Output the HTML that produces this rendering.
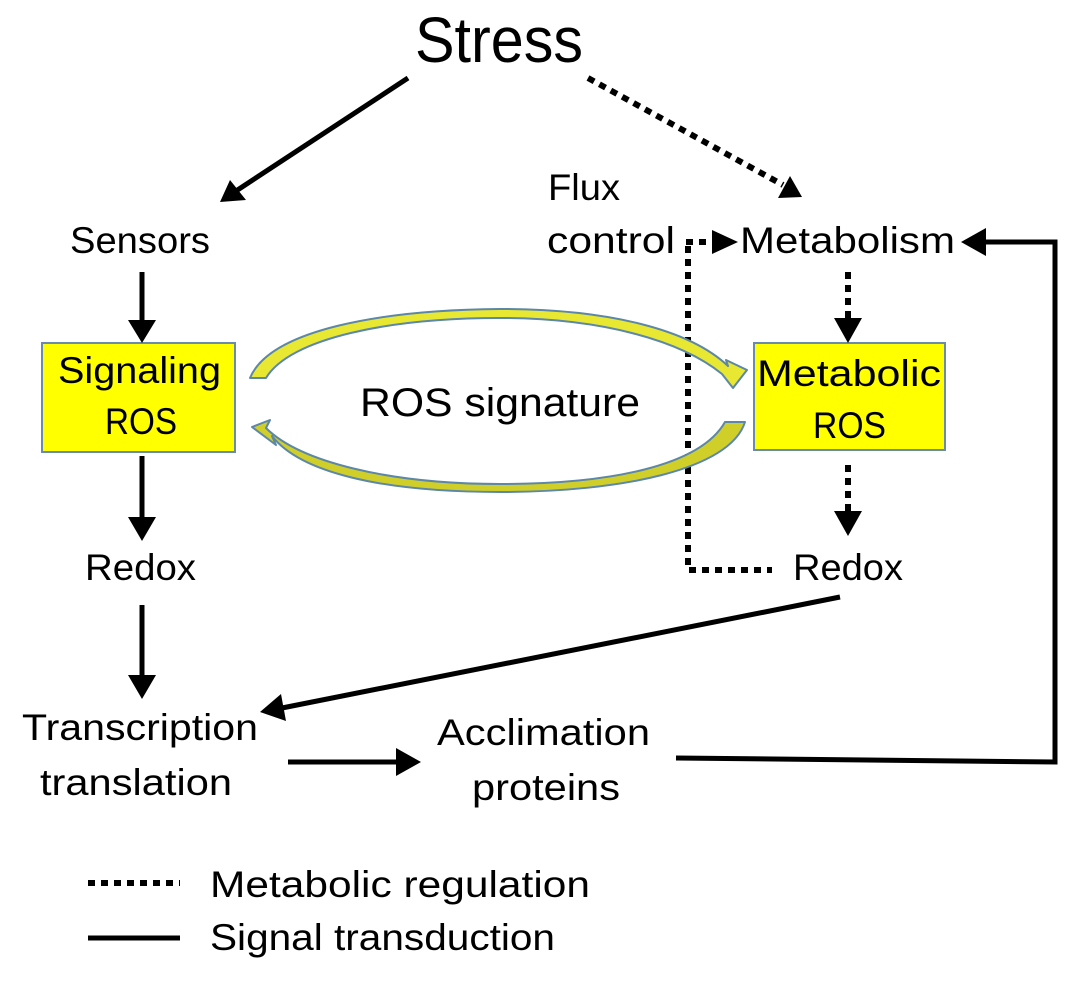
<!DOCTYPE html>
<html><head><meta charset="utf-8"><style>
html,body{margin:0;padding:0;background:#fff;}
svg{display:block;}
text{font-family:"Liberation Sans",sans-serif;fill:#000;}
</style></head><body>
<svg width="1080" height="986" viewBox="0 0 1080 986" xmlns="http://www.w3.org/2000/svg">
<rect x="42" y="343" width="193" height="109" fill="#ffff00" stroke="#6a8ab0" stroke-width="2"/>
<rect x="754" y="343" width="191" height="107" fill="#ffff00" stroke="#6a8ab0" stroke-width="2"/>

<text x="415" y="62" font-size="64" textLength="168" lengthAdjust="spacingAndGlyphs">Stress</text>
<text x="70" y="253" font-size="37" textLength="140" lengthAdjust="spacingAndGlyphs">Sensors</text>
<text x="58" y="383" font-size="37" textLength="163" lengthAdjust="spacingAndGlyphs">Signaling</text>
<text x="105" y="434" font-size="37" textLength="72" lengthAdjust="spacingAndGlyphs">ROS</text>
<text x="85" y="580" font-size="37" textLength="111" lengthAdjust="spacingAndGlyphs">Redox</text>
<text x="22" y="740" font-size="37" textLength="236" lengthAdjust="spacingAndGlyphs">Transcription</text>
<text x="40" y="795" font-size="37" textLength="192" lengthAdjust="spacingAndGlyphs">translation</text>
<text x="437" y="745" font-size="37" textLength="213" lengthAdjust="spacingAndGlyphs">Acclimation</text>
<text x="472" y="800" font-size="37" textLength="148" lengthAdjust="spacingAndGlyphs">proteins</text>
<text x="548" y="200" font-size="37" textLength="72" lengthAdjust="spacingAndGlyphs">Flux</text>
<text x="547" y="253" font-size="37" textLength="128" lengthAdjust="spacingAndGlyphs">control</text>
<text x="740" y="253" font-size="37" textLength="215" lengthAdjust="spacingAndGlyphs">Metabolism</text>
<text x="757" y="386" font-size="37" textLength="184" lengthAdjust="spacingAndGlyphs">Metabolic</text>
<text x="813" y="438" font-size="37" textLength="73" lengthAdjust="spacingAndGlyphs">ROS</text>
<text x="793" y="580" font-size="37" textLength="110" lengthAdjust="spacingAndGlyphs">Redox</text>
<text x="360" y="416" font-size="40" textLength="280" lengthAdjust="spacingAndGlyphs">ROS signature</text>
<text x="210" y="897" font-size="37" textLength="380" lengthAdjust="spacingAndGlyphs">Metabolic regulation</text>
<text x="210" y="950" font-size="37" textLength="345" lengthAdjust="spacingAndGlyphs">Signal transduction</text>

<g stroke="#000" stroke-width="5" fill="none">
  <line x1="408" y1="78" x2="236" y2="191"/>
  <line x1="142" y1="272" x2="142" y2="322"/>
  <line x1="142" y1="456" x2="142" y2="518"/>
  <line x1="142" y1="605" x2="142" y2="676"/>
  <line x1="288" y1="762" x2="398" y2="762"/>
  <polyline points="676,758 1055,762 1055,242 984,242"/>
  <line x1="840" y1="597" x2="282" y2="708"/>
  <line x1="88" y1="938" x2="180" y2="938"/>
  <g stroke-dasharray="7,6" stroke-width="6">
    <line x1="588" y1="78" x2="783" y2="185"/>
    <line x1="686" y1="242" x2="714" y2="242"/>
    <polyline points="688,246 688,570 772,570"/>
    <line x1="848" y1="272" x2="848" y2="320"/>
    <line x1="848" y1="465" x2="848" y2="513"/>
    <line x1="88" y1="883" x2="180" y2="883"/>
  </g>
</g>
<g fill="#000">
  <polygon points="220,202 230,180 246,200"/>
  <polygon points="128,320 156,320 142,343"/>
  <polygon points="128,517 156,517 142,541"/>
  <polygon points="128,675 156,675 142,699"/>
  <polygon points="396,748 396,776 421,762"/>
  <polygon points="986,228 986,256 961,242"/>
  <polygon points="260,712 281,694 286,721"/>
  <polygon points="802,197 778,198 790,176"/>
  <polygon points="712,230 712,254 738,242"/>
  <polygon points="834,318 862,318 848,343"/>
  <polygon points="834,511 862,511 848,536"/>
</g>
<g stroke-linejoin="round">
  <path d="M250,378 C270,330 380,310 500,309 C610,309 690,330 728,366 L726,360 L747,370 L733,388 L722,374 C680,340 600,318 500,318 C390,318 290,338 266,378 Z" fill="#e8e832" stroke="#5c87a8" stroke-width="2"/>
  <path d="M745,422 C730,470 620,492 500,492 C380,492 300,472 272,436 L276,445 L252,427 L270,420 L266,428 C300,462 390,484 500,484 C610,484 700,466 725,422 Z" fill="#d0cf2a" stroke="#5c87a8" stroke-width="2"/>
</g>
</svg>
</body></html>
